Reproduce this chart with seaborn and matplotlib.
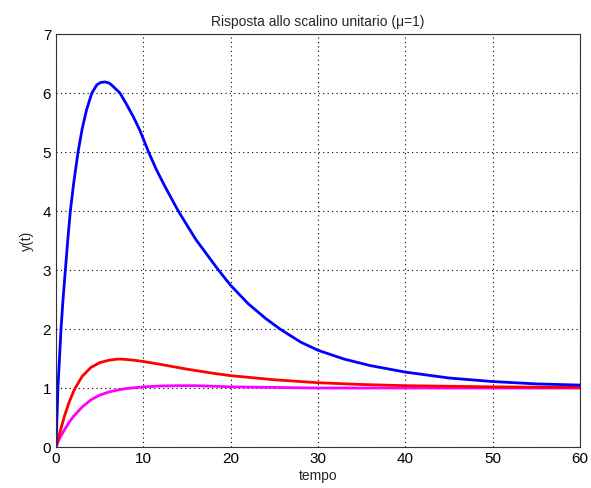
import matplotlib
matplotlib.use("Agg")
import matplotlib.pyplot as plt
import seaborn as sns
import pandas as pd

t_blue = [0, 0.22, 0.57, 0.8, 1.07, 1.35, 1.64, 2.0, 2.52, 3.0, 3.5, 4.1, 4.67, 5.1, 5.6, 6.1, 6.57, 7.33, 8, 8.85, 9.6, 10.6, 11.5, 12.5, 14, 16, 18.6, 20, 22, 24, 25.65, 28, 30, 33, 36, 40, 45, 50, 55, 60]
y_blue = [0, 1.0, 2.0, 2.5, 3.0, 3.52, 4.0, 4.45, 5.0, 5.4, 5.72, 6.0, 6.14, 6.18, 6.19, 6.17, 6.11, 6.0, 5.83, 5.6, 5.37, 5.0, 4.7, 4.41, 4.0, 3.52, 3.0, 2.74, 2.43, 2.18, 2.0, 1.78, 1.64, 1.49, 1.38, 1.27, 1.17, 1.11, 1.07, 1.05]

t_red = [0, 0.25, 0.5, 1, 1.5, 2, 2.2, 3, 4, 5, 6, 7, 7.5, 8, 9, 10, 12, 15, 18, 20, 25, 30, 35, 40, 50, 60]
y_red = [0, 0.15, 0.28, 0.54, 0.76, 0.94, 1.0, 1.2, 1.35, 1.43, 1.47, 1.49, 1.49, 1.485, 1.47, 1.45, 1.4, 1.32, 1.25, 1.21, 1.14, 1.09, 1.06, 1.04, 1.02, 1.01]

t_mag = [0, 0.25, 0.5, 1, 1.5, 2, 3, 4, 5, 6, 7, 8, 10, 12, 14, 16, 18, 20, 25, 30, 40, 50, 60]
y_mag = [0, 0.09, 0.17, 0.3, 0.42, 0.52, 0.68, 0.8, 0.88, 0.93, 0.965, 0.99, 1.02, 1.035, 1.04, 1.04, 1.03, 1.02, 1.01, 1.0, 1.0, 1.0, 1.0]

x_ticks = [0, 10, 20, 30, 40, 50, 60]
y_ticks = [0, 1, 2, 3, 4, 5, 6, 7]

sns.set_style("white")
plt.rcParams['font.family'] = ['Liberation Sans', 'DejaVu Sans']

fig = plt.figure(figsize=(5.91, 4.88), dpi=100)
ax = fig.add_axes([0.0948, 0.084, 0.8866, 0.846])

df_b = pd.DataFrame({"t": t_blue, "y": y_blue})
df_r = pd.DataFrame({"t": t_red, "y": y_red})
df_m = pd.DataFrame({"t": t_mag, "y": y_mag})

sns.lineplot(data=df_m, x="t", y="y", ax=ax, color="#ff00ff", linewidth=2, sort=False)
sns.lineplot(data=df_r, x="t", y="y", ax=ax, color="#ff0000", linewidth=2, sort=False)
sns.lineplot(data=df_b, x="t", y="y", ax=ax, color="#0000ff", linewidth=2, sort=False)

ax.set_xlim(0, 60)
ax.set_ylim(0, 7)
ax.set_xticks(x_ticks)
ax.set_yticks(y_ticks)
ax.grid(True, color="black", linestyle=(0, (1, 3)), linewidth=0.8)
ax.tick_params(direction="in", length=4, labelsize=11, colors="black")
for s in ax.spines.values():
    s.set_color("#333333")
    s.set_linewidth(0.8)
    s.set_visible(True)
ax.set_title("Risposta allo scalino unitario (\u03bc=1)", fontsize=10, pad=6)
ax.set_xlabel("tempo", fontsize=10, labelpad=2)
ax.set_ylabel("y(t)", fontsize=10, labelpad=6)

fig.savefig("out.png", dpi=100, facecolor="white")
